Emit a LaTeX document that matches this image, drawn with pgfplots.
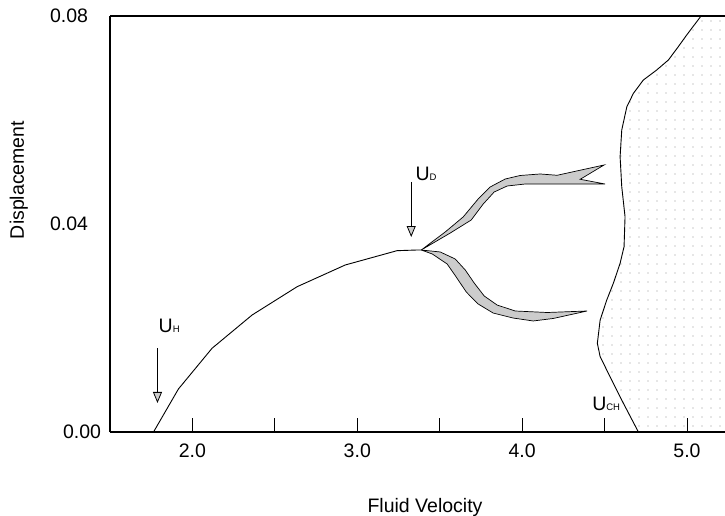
\documentclass[border=0pt]{standalone}
\usepackage{fontspec}
\setmainfont{Liberation Sans}
\usepackage{pgfplots}
\pgfplotsset{compat=1.18}
\usetikzlibrary{arrows.meta,patterns.meta}
\newcommand{\bigf}{\fontsize{19.5bp}{23bp}\selectfont}
\newcommand{\subf}{\fontsize{9.5bp}{11bp}\selectfont}
\begin{document}
\begin{tikzpicture}
\begin{axis}[
  at={(0,0)}, anchor=south west,
  scale only axis, width=615bp, height=416bp,
  xmin=1.5, xmax=5.2303, ymin=0, ymax=0.08,
  axis x line*=bottom, axis y line*=left,
  axis line style={-, line width=1.1bp},
  tick align=inside, major tick length=14bp,
  scaled x ticks=false, scaled y ticks=false,
  xtick={2,2.5,3,3.5,4,4.5,5},
  xticklabels={2.0,,3.0,,4.0,,5.0},
  ytick={0.02,0.04,0.06,0.08},
  yticklabels={{},{0.04},{},{0.08}},
  extra y ticks={0},
  extra y tick labels={0.00},
  extra y tick style={yticklabel style={xshift=13bp}},
  ytick style={draw=none},
  xtick style={line width=0.9bp, black},
  every tick label/.append style={font=\bigf},
  xticklabel style={yshift=-8bp},
  yticklabel style={xshift=-18.5bp},
]
% hollow (chaotic) region
\addplot[draw=none, pattern={Dots[distance=9bp,radius=0.65bp]}, pattern color=gray!85] coordinates {
(5.085,0.08) (4.998,0.07635) (4.947,0.0741) (4.887,0.07154) (4.816,0.06962) (4.735,0.06769)
(4.675,0.06514) (4.635,0.06256) (4.604,0.05808) (4.594,0.05294) (4.604,0.04717) (4.624,0.0414)
(4.618,0.03564) (4.594,0.03244) (4.553,0.0286) (4.513,0.02538) (4.473,0.02154) (4.456,0.01706)
(4.473,0.01448) (4.513,0.01192) (4.553,0.00937) (4.614,0.00552) (4.705,0)
(5.25,0) (5.25,0.08) (5.085,0.08)};
\addplot[black, line width=0.9bp] coordinates {
(5.085,0.08) (4.998,0.07635) (4.947,0.0741) (4.887,0.07154) (4.816,0.06962) (4.735,0.06769)
(4.675,0.06514) (4.635,0.06256) (4.604,0.05808) (4.594,0.05294) (4.604,0.04717) (4.624,0.0414)
(4.618,0.03564) (4.594,0.03244) (4.553,0.0286) (4.513,0.02538) (4.473,0.02154) (4.456,0.01706)
(4.473,0.01448) (4.513,0.01192) (4.553,0.00937) (4.614,0.00552) (4.705,0)};
% main branch
\addplot[black, line width=0.9bp] coordinates {
(1.764,0) (1.915,0.00827) (2.119,0.0161) (2.362,0.0225) (2.635,0.02794) (2.927,0.03212)
(3.241,0.03487) (3.362,0.0350) (3.388,0.0350)};
% upper band
\addplot[black, line width=0.7bp, fill=gray!40] coordinates {
(3.388,0.0350) (3.533,0.03846) (3.642,0.04135) (3.733,0.04481) (3.806,0.04712) (3.897,0.04865)
(3.988,0.04933) (4.109,0.04962) (4.212,0.04937) (4.497,0.05135) (4.352,0.0486) (4.503,0.04769)
(4.212,0.04769) (4.018,0.04769) (3.909,0.04731) (3.830,0.04615) (3.764,0.04385) (3.691,0.04077)
(3.564,0.03827) (3.388,0.0350)};
% lower band
\addplot[black, line width=0.7bp, fill=gray!40] coordinates {
(3.388,0.0350) (3.503,0.03462) (3.594,0.03327) (3.655,0.03115) (3.709,0.02865) (3.770,0.02615)
(3.848,0.02442) (3.958,0.02327) (4.152,0.02298) (4.394,0.02327) (4.188,0.02183) (4.067,0.02135)
(3.945,0.02192) (3.824,0.02288) (3.733,0.02462) (3.661,0.02692) (3.600,0.02981) (3.545,0.03231)
(3.455,0.03423) (3.388,0.0350)};
% arrows
\addplot[black, line width=0.8bp, -{Triangle[length=11bp,width=9bp,fill=gray!40]}] coordinates {(1.788,0.01615) (1.788,0.00558)};
\addplot[black, line width=0.8bp, -{Triangle[length=11bp,width=9bp,fill=gray!40]}] coordinates {(3.327,0.04808) (3.327,0.0375)};
% y ticks
\draw[line width=0.9bp] (axis cs:1.5,0.02) -- ++(21bp,0);
\draw[line width=0.9bp] (axis cs:1.5,0.04) -- ++(21bp,0);
\draw[line width=0.9bp] (axis cs:1.5,0.06) -- ++(21bp,0);
% labels
\node[anchor=base west, inner sep=0pt, font=\bigf] at (axis cs:1.794,0.01904) {U{\subf H}};
\node[anchor=base west, inner sep=0pt, font=\bigf] at (axis cs:3.352,0.04846) {U{\subf D}};
\node[anchor=base west, inner sep=0pt, font=\bigf] at (axis cs:4.424,0.00423) {U{\subf CH}};
\end{axis}
\draw[line width=1.1bp] (0,416bp) -- (615bp,416bp);
\node[anchor=base, inner sep=0pt, font=\bigf] at (315bp,-80bp) {Fluid Velocity};
\node[anchor=base, inner sep=0pt, rotate=90, font=\bigf] at (-86bp,252bp) {Displacement};
\pgfresetboundingbox
\path[use as bounding box] (-110bp,-84bp) rectangle (615bp,432bp);
\end{tikzpicture}
\end{document}
